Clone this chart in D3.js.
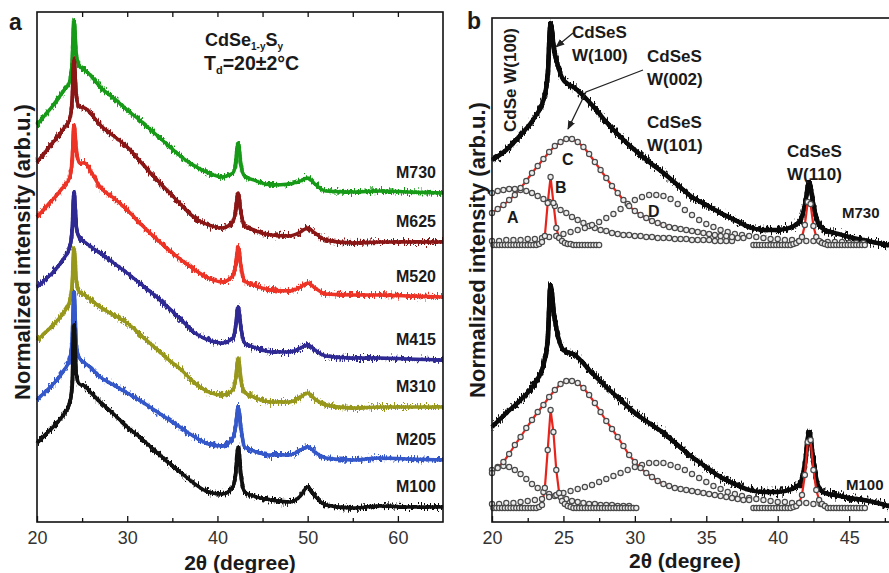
<!DOCTYPE html>
<html>
<head>
<meta charset="utf-8">
<script src="https://cdn.jsdelivr.net/npm/d3@7"></script>
<style>
    body { margin: 0; background: #fff; }
    svg { display: block; font-family: Arial, "Liberation Sans", Helvetica, sans-serif; }
    .axis path { display: none; }
    .axis line { stroke: #111; stroke-width: 1.3; }
    .axis text { font-size: 18px; fill: #333; font-family: Arial, "Liberation Sans", sans-serif; }
    .lbl { font-weight: bold; fill: #1a1a1a; }
</style>
</head>
<body>
<div id="chart"></div>
<script>
// ---------- data : panel a (stacked XRD patterns, arb.u.) ----------
var twoThetaA = [20, 21, 22, 23, 23.6, 23.9, 24.1, 24.35, 24.7, 25.3, 26, 27, 28.5, 30, 31.5, 33, 34.5, 36, 37.5, 39,
    40.5, 41.7, 42.0, 42.3, 42.6, 43, 44, 46, 48, 49.2, 50, 50.8, 52, 55, 58, 61, 65];

var samplesA = ['M730', 'M625', 'M520', 'M415', 'M310', 'M205', 'M100'];
var colorsA = ['#179a17', '#8a1616', '#ec3326', '#2f2a93', '#97971c', '#3457c9', '#111111'];

var m730 = [397, 408, 419, 432, 440, 460, 502, 467, 456, 452, 446, 435, 424, 412, 401, 389, 377, 365, 356, 349,
    345, 349, 357, 379, 357, 346, 342, 337, 338, 341, 344, 338, 331, 330, 331, 330, 329];
var m625 = [360, 371, 382, 394, 402, 422, 462, 427, 415, 414, 408, 397, 386, 375, 360, 345, 331, 317, 304, 297,
    294, 300, 310, 329, 310, 296, 292, 287, 286, 290, 294, 289, 282, 279, 280, 280, 280];
var m520 = [305, 315, 325, 336, 344, 362, 397, 372, 359, 359, 350, 335, 324, 312, 298, 285, 273, 262, 252, 244,
    240, 246, 256, 275, 256, 241, 237, 232, 231, 235, 239, 234, 228, 227, 227, 226, 225];
var m415 = [235, 243, 252, 264, 274, 292, 330, 297, 284, 280, 275, 269, 259, 249, 238, 227, 215, 202, 189, 182,
    179, 184, 194, 215, 194, 179, 175, 170, 170, 174, 177, 172, 166, 164, 164, 163, 162];
var m310 = [182, 190, 199, 210, 220, 237, 274, 242, 230, 227, 222, 215, 207, 199, 187, 175, 163, 152, 139, 130,
    127, 132, 142, 164, 142, 130, 125, 120, 120, 125, 129, 123, 117, 114, 115, 115, 115];
var m205 = [122, 131, 140, 152, 162, 182, 230, 177, 164, 159, 154, 145, 137, 129, 121, 112, 103, 94, 85, 78,
    76, 84, 94, 115, 94, 75, 71, 67, 67, 72, 75, 70, 64, 62, 64, 63, 62];
var m100 = [79, 88, 97, 108, 118, 137, 197, 147, 138, 136, 129, 120, 108, 95, 84, 72, 60, 49, 38, 30,
    28, 35, 47, 75, 47, 30, 26, 22, 20, 26, 35, 26, 17, 14, 16, 15, 15];

// ---------- data : panel b (measured pattern + fitted components) ----------
var twoThetaB = [20, 21, 22, 23, 23.6, 23.9, 24.1, 24.35, 24.6, 25, 25.8, 27, 28, 29, 30, 31, 32, 33, 34, 35,
    36, 37, 38, 39, 40, 41, 41.6, 41.9, 42.2, 42.5, 42.8, 43.3, 44, 45, 46, 47, 48];
var b730 = [362, 372, 387, 405, 422, 447, 499, 472, 457, 442, 434, 417, 400, 385, 372, 360, 349, 337, 325, 317,
    309, 302, 295, 292, 292, 295, 302, 317, 340, 317, 300, 292, 289, 285, 282, 279, 276];
var b100 = [95, 109, 122, 139, 157, 182, 237, 207, 187, 172, 167, 149, 135, 122, 109, 99, 89, 77, 65, 55,
    45, 38, 32, 30, 30, 33, 39, 57, 90, 62, 37, 29, 27, 24, 22, 19, 15];

// fitted peaks A-E for M730 (2theta grid: start, step)
var fitA730 = [329, 331, 332, 333, 333, 332, 331, 329, 326, 323, 320, 316, 312, 309, 305, 302, 299, 296, 294, 292,
    291, 289, 288, 287, 287, 286, 286, 285, 285, 284, 284, 284, 283, 283, 283, 282, 282, 282, 282, 281, 281, 281, 281];
var fitB730 = [277, 277, 277, 277, 277, 277, 277, 277, 277, 277, 277, 277, 277, 277, 277,
    277, 278, 280, 286, 319, 345, 319, 294, 284, 281, 279, 278, 278,
    277, 277, 277, 277, 277, 277, 277, 277, 277, 277];
var fitC730 = [309, 313, 317, 322, 327, 334, 341, 349, 356, 363, 370, 376, 380, 383, 383, 380, 375, 368, 360, 352,
    344, 336, 329, 322, 316, 311, 307, 304, 301, 299, 297, 295, 294, 293, 292, 291, 290, 289, 288, 287, 286, 286, 285, 284, 284];
var fitD730 = [281, 281, 282, 282, 282, 283, 283, 284, 285, 286, 288, 290, 292, 294, 297, 300, 304, 308, 313, 318,
    322, 325, 327, 327, 326, 323, 318, 312, 307, 302, 298, 295, 292, 290, 288, 287, 286, 285, 284, 283,
    283, 282, 282, 281, 281, 281, 280, 280, 280, 280, 279, 279, 279];
var fitE730 = [277, 277, 277, 277, 277, 277, 277, 277, 277, 277, 277, 277, 277, 277,
    278, 279, 281, 285, 297, 320, 318, 296, 285, 281, 279, 278,
    277, 277, 277, 277, 277, 277, 277, 277, 277, 277, 277, 277, 277, 277];

// fitted peaks A-E for M100
var fitA100 = [52, 55, 56, 55, 52, 48, 43, 38, 34, 30, 28, 26, 25, 23, 21, 20, 19, 18, 18, 17, 17, 17, 16, 16, 16];
var fitB100 = [14, 14, 14, 14, 14, 14, 14, 14, 14, 14, 14, 14, 14, 14, 14,
    14, 15, 17, 34, 72, 112, 90, 52, 29, 21, 18, 16, 15,
    14, 14, 14, 14, 14, 14, 14, 14, 14, 14, 14, 14, 14, 14, 14, 14, 14, 14, 14, 14, 14, 14, 14];
var fitC100 = [49, 54, 60, 68, 77, 85, 94, 102, 110, 117, 125, 132, 138, 141, 141, 139, 134, 127, 119, 110,
    101, 93, 85, 76, 67, 60, 54, 49, 45, 41, 38, 36, 34, 33, 32, 31, 30, 29, 28, 27, 26, 25, 24, 23, 22, 22];
var fitD100 = [18, 18, 19, 19, 20, 21, 22, 23, 25, 27, 29, 31, 33, 35, 37, 40, 43, 46, 49, 52,
    55, 57, 59, 59, 59, 57, 55, 52, 48, 44, 40, 36, 33, 30, 28, 26, 24, 23, 22, 21, 20, 20, 19, 19, 19, 18, 18];
var fitE100 = [14, 14, 14, 14, 14, 14, 14, 14, 14, 14, 14, 14, 14, 14,
    15, 16, 19, 27, 47, 80, 82, 52, 32, 22, 18, 16,
    14, 14, 14, 14, 14, 14, 14, 14, 14, 14, 14, 14, 14, 14];

// ---------- layout ----------
var width = 889;
var height = 573;
var panelA = {left: 37, right: 443, top: 12, bottom: 522};
var panelB = {left: 492, right: 892, top: 18, bottom: 522};

var svg = d3.select('#chart').append('svg')
    .attr('width', width)
    .attr('height', height);

var defs = svg.append('defs');

// fuzzy edge for the measured patterns (render effect only, vertical jitter)
function noiseFilter(id, scale, seed) {
    var f = defs.append('filter')
        .attr('id', id)
        .attr('filterUnits', 'userSpaceOnUse')
        .attr('x', 0).attr('y', 0).attr('width', width).attr('height', height);
    f.append('feTurbulence')
        .attr('type', 'fractalNoise')
        .attr('baseFrequency', '0.7 0.2')
        .attr('numOctaves', 2)
        .attr('seed', seed)
        .attr('result', 'n');
    f.append('feColorMatrix')
        .attr('in', 'n')
        .attr('type', 'matrix')
        .attr('values', '0 0 0 0 0.5  0 1 0 0 0  0 0 1 0 0  0 0 0 0 1')
        .attr('result', 'ny');
    f.append('feDisplacementMap')
        .attr('in', 'SourceGraphic')
        .attr('in2', 'ny')
        .attr('scale', scale)
        .attr('xChannelSelector', 'R')
        .attr('yChannelSelector', 'G');
}
noiseFilter('noisyA', 11, 4);
noiseFilter('noisyB', 15, 7);

// scales
var xA = d3.scaleLinear().domain([20, 65]).range([panelA.left, panelA.right]);
var yA = d3.scaleLinear().domain([0, 510]).range([panelA.bottom, panelA.top]);
var xB = d3.scaleLinear().domain([20, 48]).range([panelB.left, panelB.right]);
var yB = d3.scaleLinear().domain([0, 504]).range([panelB.bottom, panelB.top]);

function pairs(xs, vals) {
    return vals.map(function (v, i) { return [xs[i], v]; });
}
// fitted components are sampled on a regular 2theta grid
function gridPairs(start, step, vals) {
    return vals.map(function (v, i) { return [start + i * step, v]; });
}

// ---------- panel a ----------
var seriesA = [m730, m625, m520, m415, m310, m205, m100];
var lineA = d3.line()
    .x(function (d) { return xA(d[0]); })
    .y(function (d) { return yA(d[1]); })
    .curve(d3.curveMonotoneX);

seriesA.forEach(function (vals, i) {
    var g = svg.append('g');
    var d = lineA(pairs(twoThetaA, vals));
    g.append('path')
        .attr('d', d)
        .attr('fill', 'none')
        .attr('stroke', colorsA[i])
        .attr('stroke-width', 3.8)
        .attr('filter', 'url(#noisyA)');
    g.append('path')
        .attr('d', d)
        .attr('fill', 'none')
        .attr('stroke', colorsA[i])
        .attr('stroke-width', 3.4)
        .attr('stroke-linejoin', 'round');
});
seriesA.forEach(function (vals, i) {
    svg.append('text')
        .attr('class', 'lbl')
        .attr('x', panelA.right - 7)
        .attr('y', yA(vals[vals.length - 1]) - 15)
        .attr('text-anchor', 'end')
        .style('font-size', '16px')
        .text(samplesA[i]);
});

// frame + ticks
svg.append('rect')
    .attr('x', panelA.left).attr('y', panelA.top)
    .attr('width', panelA.right - panelA.left).attr('height', panelA.bottom - panelA.top)
    .attr('fill', 'none').attr('stroke', '#111').attr('stroke-width', 1.6);

svg.append('g').attr('class', 'axis')
    .attr('transform', 'translate(0,' + panelA.bottom + ')')
    .call(d3.axisBottom(xA).tickValues([20, 30, 40, 50, 60]).tickSize(-6).tickPadding(9));
svg.append('g').attr('class', 'axis')
    .attr('transform', 'translate(0,' + panelA.bottom + ')')
    .call(d3.axisBottom(xA).tickValues([25, 35, 45, 55]).tickSize(-4).tickFormat(''));
svg.append('g').attr('class', 'axis')
    .attr('transform', 'translate(0,' + panelA.top + ')')
    .call(d3.axisTop(xA).tickValues([25, 30, 35, 40, 45, 50, 55, 60]).tickSize(-5).tickFormat(''));

svg.append('text').attr('class', 'lbl')
    .attr('x', xA(42.5)).attr('y', 570)
    .attr('text-anchor', 'middle').style('font-size', '21px')
    .text('2\u03b8 (degree)');

svg.append('text').attr('class', 'lbl')
    .attr('transform', 'translate(30,252) rotate(-90)')
    .attr('text-anchor', 'middle').style('font-size', '22px')
    .text('Normalized intensity (arb.u.)');

svg.append('text').attr('class', 'lbl')
    .attr('x', 9).attr('y', 30).style('font-size', '23px').text('a');

// composition / deposition temperature note
var t1 = svg.append('text').attr('class', 'lbl').attr('x', 205).attr('y', 46).style('font-size', '18px');
t1.append('tspan').text('CdSe');
t1.append('tspan').attr('dy', 4).style('font-size', '10px').text('1-y');
t1.append('tspan').attr('dy', -4).text('S');
t1.append('tspan').attr('dy', 4).style('font-size', '10px').text('y');
var t2 = svg.append('text').attr('class', 'lbl').attr('x', 204).attr('y', 70).style('font-size', '19.5px');
t2.append('tspan').text('T');
t2.append('tspan').attr('dy', 4).style('font-size', '11px').text('d');
t2.append('tspan').attr('dy', -4).text('=20\u00b12\u00b0C');

// ---------- panel b ----------
var lineB = d3.line()
    .x(function (d) { return xB(d[0]); })
    .y(function (d) { return yB(d[1]); })
    .curve(d3.curveMonotoneX);
var fitLine = d3.line()
    .x(function (d) { return xB(d[0]); })
    .y(function (d) { return yB(d[1]); });

[b730, b100].forEach(function (vals) {
    var d = lineB(pairs(twoThetaB, vals));
    svg.append('path')
        .attr('d', d)
        .attr('fill', 'none')
        .attr('stroke', '#0a0a0a')
        .attr('stroke-width', 4.6)
        .attr('filter', 'url(#noisyB)');
    svg.append('path')
        .attr('d', d)
        .attr('fill', 'none')
        .attr('stroke', '#0a0a0a')
        .attr('stroke-width', 4.4)
        .attr('stroke-linejoin', 'round');
});

var fits = [
    {pts: gridPairs(20, 0.4, fitA730), red: false},
    {pts: gridPairs(20, 0.5, fitD730), red: false},
    {pts: gridPairs(20, 0.4, fitC730), red: true},
    {pts: gridPairs(20.1, 0.2, fitB730), red: true},
    {pts: gridPairs(38.3, 0.2, fitE730), red: true},
    {pts: gridPairs(20, 0.4, fitA100), red: false},
    {pts: gridPairs(20, 0.5, fitD100), red: false},
    {pts: gridPairs(20, 0.4, fitC100), red: true},
    {pts: gridPairs(20.1, 0.2, fitB100), red: true},
    {pts: gridPairs(38.3, 0.2, fitE100), red: true}
];

fits.forEach(function (f) {
    if (!f.red) return;
    svg.append('path')
        .datum(f.pts)
        .attr('d', fitLine)
        .attr('fill', 'none')
        .attr('stroke', '#e8231b')
        .attr('stroke-width', 2.2);
});
fits.forEach(function (f) {
    svg.append('g').selectAll('circle')
        .data(f.pts)
        .enter().append('circle')
        .attr('cx', function (d) { return xB(d[0]); })
        .attr('cy', function (d) { return yB(d[1]); })
        .attr('r', 2.6)
        .attr('fill', '#eeeeee')
        .attr('stroke', '#4a4a4a')
        .attr('stroke-width', 1.2);
});

svg.append('rect')
    .attr('x', panelB.left).attr('y', panelB.top)
    .attr('width', panelB.right - panelB.left).attr('height', panelB.bottom - panelB.top)
    .attr('fill', 'none').attr('stroke', '#111').attr('stroke-width', 1.6);

svg.append('g').attr('class', 'axis')
    .attr('transform', 'translate(0,' + panelB.bottom + ')')
    .call(d3.axisBottom(xB).tickValues([20, 25, 30, 35, 40, 45]).tickSize(-6).tickPadding(9));
svg.append('g').attr('class', 'axis')
    .attr('transform', 'translate(0,' + panelB.bottom + ')')
    .call(d3.axisBottom(xB).tickValues([22.5, 27.5, 32.5, 37.5, 42.5, 47.5]).tickSize(-4).tickFormat(''));

svg.append('text').attr('class', 'lbl')
    .attr('x', xB(33.5)).attr('y', 568)
    .attr('text-anchor', 'middle').style('font-size', '21px')
    .text('2\u03b8 (degree)');

svg.append('text').attr('class', 'lbl')
    .attr('transform', 'translate(485,250) rotate(-90)')
    .attr('text-anchor', 'middle').style('font-size', '22px')
    .text('Normalized intensity (arb.u.)');

svg.append('text').attr('class', 'lbl')
    .attr('x', 467).attr('y', 29).style('font-size', '23px').text('b');

// peak annotations
var annos = [
    {x: 572, y: 38, lines: ['CdSeS', 'W(100)']},
    {x: 647, y: 62, lines: ['CdSeS', 'W(002)']},
    {x: 647, y: 128, lines: ['CdSeS', 'W(101)']},
    {x: 787, y: 157, lines: ['CdSeS', 'W(110)']}
];
annos.forEach(function (a) {
    a.lines.forEach(function (s, k) {
        svg.append('text').attr('class', 'lbl')
            .attr('x', a.x).attr('y', a.y + k * 22.5)
            .style('font-size', '17px').text(s);
    });
});

svg.append('text').attr('class', 'lbl')
    .attr('transform', 'translate(516,80) rotate(-90)')
    .attr('text-anchor', 'middle').style('font-size', '17px')
    .text('CdSe W(100)');

var letters = [['A', 507, 223], ['B', 555, 193], ['C', 562, 165], ['D', 648, 217]];
letters.forEach(function (l) {
    svg.append('text').attr('class', 'lbl')
        .attr('x', l[1]).attr('y', l[2]).style('font-size', '16px').text(l[0]);
});

svg.append('text').attr('class', 'lbl').attr('x', 842).attr('y', 218).style('font-size', '15px').text('M730');
svg.append('text').attr('class', 'lbl').attr('x', 846).attr('y', 490).style('font-size', '15px').text('M100');

// arrows
defs.append('marker')
    .attr('id', 'arr')
    .attr('viewBox', '0 0 10 10')
    .attr('refX', 9).attr('refY', 5)
    .attr('markerWidth', 7).attr('markerHeight', 7)
    .attr('orient', 'auto')
    .append('path').attr('d', 'M0,1 L10,5 L0,9 z').attr('fill', '#222');

svg.append('path')
    .attr('d', d3.line()([[573, 33], [556, 47]]))
    .attr('fill', 'none').attr('stroke', '#222').attr('stroke-width', 1.3)
    .attr('marker-end', 'url(#arr)');
svg.append('path')
    .attr('d', d3.line()([[643, 70], [586, 92], [568, 129]]))
    .attr('fill', 'none').attr('stroke', '#222').attr('stroke-width', 1.3)
    .attr('marker-end', 'url(#arr)');
</script>
</body>
</html>
